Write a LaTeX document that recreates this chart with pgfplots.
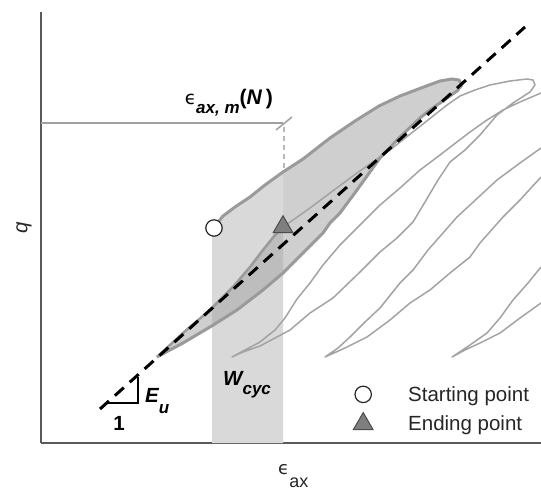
\documentclass[border=0pt]{standalone}
\usepackage{graphicx}
\usepackage{fontspec}
\setmainfont{Liberation Sans}
\newfontfamily\dejavu{DejaVu Sans}
\usepackage{pgfplots}
\pgfplotsset{compat=1.18}
\definecolor{axc}{HTML}{5A5A5A}
\definecolor{thickc}{HTML}{9A9A9A}
\definecolor{thinc}{HTML}{A3A3A3}
\definecolor{loopf}{HTML}{CFCFCF}
\definecolor{rectf}{HTML}{D9D9D9}
\definecolor{darkf}{HTML}{BDBDBD}
\definecolor{trif}{HTML}{7F7F7F}
\definecolor{hlc}{HTML}{A0A0A0}
\begin{document}
\begin{tikzpicture}
\useasboundingbox (-41pt,-48pt) rectangle (500pt,443pt);
\begin{axis}[
  scale only axis, width=500pt, height=431pt,
  xmin=0, xmax=500, ymin=0, ymax=431,
  axis lines*=left,
  axis line style={draw=axc, line width=2pt},
  ticks=none,
  xlabel={{\dejavu\fontsize{18}{20}\selectfont ϵ}\raisebox{-13pt}{ax}},
  xlabel style={at={(axis description cs:0.474,-0.0742)}, anchor=base west, inner sep=0pt, font=\fontsize{18}{22}\selectfont, text=black!85},
  ylabel={\textit{q}},
  ylabel style={at={(axis description cs:-0.034,0.499)}, anchor=center, inner sep=0pt, font=\fontsize{20.5}{24}\selectfont, text=black!85},
  legend style={draw=none, fill=none, at={(axis cs:300,58)}, anchor=north west, inner sep=0pt, row sep=9pt, column sep=0pt, font=\fontsize{20.5}{24}\selectfont, nodes={inner sep=1pt, text=black!85}},
  legend cell align=left,
  legend image code/.code={\path[draw=none,fill=none] (0pt,-8pt) (66pt,8pt); \draw[mark repeat=2,mark phase=2,#1] plot coordinates {(0pt,0pt)(22pt,0pt)(44pt,0pt)};},
  thinl/.style={color=thinc, line width=1.5pt, line join=round, forget plot},
  thickl/.style={color=thickc, line width=3pt, line join=round, forget plot},
]
% highlighted loop area
\addplot[fill=loopf, draw=none, forget plot] coordinates {
(174,217)(182,227)(194,236)(209,246)(224,258)(242,271)(262,284)(289,305)(314,322)(338,337)(359,347)(380,355)(399,362)(411,364)(418,363)(421,358)
(416,352)(406,345)(389,333)(379,325)(359,306)(339,285)(316,253)(299,230)(289,220)(282,210)(262,190)(242,170)(222,153)(196,133)(169,116)(142,100)(127,92)(116,86)
(129,98)(142,110)(156,122)(169,133)(181,145)(192,156)(209,176)(222,193)(234,208)(242,216)} -- cycle;
% shaded W_cyc strip
\addplot[fill=rectf, draw=none, forget plot] coordinates {(171,0)(171,215)(174,217)(182,227)(194,236)(209,246)(224,258)(242,271)(242,0)} -- cycle;
% overlap
\addplot[fill=darkf, draw=none, forget plot] coordinates {(171,135)(181,145)(192,156)(209,176)(222,193)(234,208)(242,216)(242,170)(222,153)(196,133)(171,117)} -- cycle;
% eps_ax,m(N) marker lines
\addplot[hlc, line width=1.5pt, forget plot] coordinates {(0,320)(242,320)};
\addplot[hlc, line width=1.5pt, forget plot] coordinates {(235,313)(251,326)};
\addplot[color=black!28, line width=1.5pt, dash pattern=on 5pt off 4pt, forget plot] coordinates {(243,316)(243,275)};
% later cycles (thin)
\addplot[thinl] coordinates {(242,216)(252,223)(269,235)(289,250)(316,270)(349,293)(382,319)(406,338)(419,347)(434,353)(449,358)(469,362)(486,364)(492,363)(494,358)
(489,351)(472,340)(456,328)(439,308)(424,293)(409,281)(397,263)(384,241)(372,221)(356,205)(339,191)(319,171)(292,145)(269,130)(249,113)(219,97)(202,91)(191,86)
(204,93)(219,101)(234,113)(244,125)(256,144)(269,160)(282,178)(299,198)(319,218)(339,238)(359,255)(379,273)(399,288)(412,298)(429,311)(446,323)(462,333)(479,341)(500,350)};
\addplot[thinl] coordinates {(500,266)(479,243)(462,226)(439,200)(429,186)(409,170)(389,153)(369,140)(349,123)(326,106)(304,95)(284,86)
(297,95)(309,106)(324,121)(339,135)(359,160)(372,173)(387,193)(402,210)(416,226)(429,238)(456,263)(479,280)(500,295)};
\addplot[thinl] coordinates {(500,140)(479,125)(459,110)(439,100)(424,93)(411,86)
(429,98)(446,110)(459,125)(472,143)(487,160)(500,176)};
% highlighted cycle outline
\addplot[thickl] coordinates {(174,217)(182,227)(194,236)(209,246)(224,258)(242,271)(262,284)(289,305)(314,322)(338,337)(359,347)(380,355)(399,362)(411,364)(418,363)(421,358)
(416,352)(406,345)(389,333)(379,325)(359,306)(339,285)(316,253)(299,230)(289,220)(282,210)(262,190)(242,170)(222,153)(196,133)(169,116)(142,100)(127,92)(116,86)};
\addplot[thickl, line width=2.5pt] coordinates {(116,86)(129,98)(142,110)(156,122)(169,133)(181,145)(192,156)(209,176)(222,193)(234,208)(242,216)};
% E_u line
\addplot[black, line width=3pt, dash pattern=on 12pt off 8pt, forget plot] coordinates {(59,34)(484,416)};
\addplot[black, line width=2pt, forget plot] coordinates {(67,40)(97,40)(97,66)};
% points
\addplot[only marks, mark=*, mark size=8.2pt, mark options={fill=white, draw=black!85, line width=1.2pt}] coordinates {(173,215)};
\addlegendentry{Starting point}
\addplot[only marks, mark=triangle*, mark size=11.3pt, mark options={fill=trif, draw=black!70, line width=1pt}] coordinates {(242,216)};
\addlegendentry{Ending point}
% annotations
\node[anchor=base east, inner sep=0pt] at (axis cs:232,338) {\resizebox{88pt}{!}{{\dejavu\fontsize{18}{20}\selectfont ϵ}\raisebox{-8pt}{\fontsize{16.5}{18}\selectfont\bfseries\itshape ax, m}{\fontsize{20.5}{24}\selectfont\bfseries(\textit{N}\,)}}};
\node[anchor=base west, inner sep=0pt] at (axis cs:182,58) {\fontsize{20.5}{24}\selectfont\bfseries\itshape W\raisebox{-9pt}{\fontsize{17}{20}\selectfont cyc}};
\node[anchor=base west, inner sep=0pt] at (axis cs:104,41) {\fontsize{20.5}{24}\selectfont\bfseries\itshape E\raisebox{-11pt}{\fontsize{17}{20}\selectfont u}};
\node[anchor=base, inner sep=0pt] at (axis cs:78,13) {\fontsize{20.5}{24}\selectfont\bfseries 1};
\end{axis}
\end{tikzpicture}
\end{document}
